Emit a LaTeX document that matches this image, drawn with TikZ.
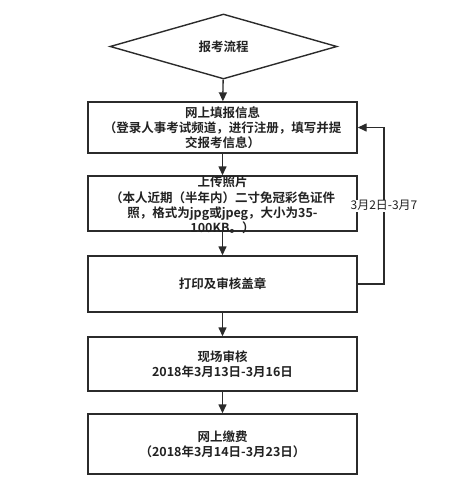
\documentclass[tikz,border=0pt]{standalone}
\usepackage{fontspec}
\newfontfamily\cjk{Noto Sans CJK SC}
\newfontfamily\cjkb{Noto Sans CJK SC Bold}
\usetikzlibrary{shapes.geometric,arrows.meta}
\definecolor{linegray}{HTML}{2B2B2B}
\definecolor{textgray}{HTML}{222222}
\tikzset{
  flow/.style={draw=linegray,line width=1.4pt,-{Triangle[length=9pt,width=8pt]}},
  box/.style={rectangle,draw=linegray,line width=1.4pt,minimum width=269pt,inner sep=2pt,
    align=center,text=textgray,font=\cjkb\fontsize{12.5}{15}\selectfont}
}
\begin{document}
\begin{tikzpicture}[x=1pt,y=-1pt]
        \useasboundingbox (0,0) rectangle (462,500);

        \node[diamond,draw=linegray,line width=1.4pt,minimum width=227pt,minimum height=65pt,
          aspect=3.5,inner sep=0pt,text=textgray,font=\cjkb\fontsize{12.5}{15}\selectfont]
          (start) at (223.5,46.5) {报考流程};

        \begin{scope}[every node/.style={box}]
          \node[minimum height=51pt] (info)  at (222.5,127.5) {网上填报信息\\（登录人事考试频道，进行注册，填写并提\\交报考信息）};
          \node[minimum height=55pt] (photo) at (222.5,203.5) {};
          \node[minimum height=56pt] (print) at (222.5,284)   {打印及审核盖章};
          \node[minimum height=54pt] (site)  at (222.5,364)   {现场审核\\2018年3月13日-3月16日};
          \node[minimum height=60pt] (pay)   at (222.5,444)   {网上缴费\\（2018年3月14日-3月23日）};
        \end{scope}

        \node[box,draw=none,font=\cjkb\fontsize{12.5}{15.3}\selectfont] (phototext) at (222.5,205)
          {上传照片\\（本人近期（半年内）二寸免冠彩色证件\\照，格式为jpg或jpeg，大小为35-\\100KB。）};

        \coordinate (back) at (384,284);

        \begin{scope}[every path/.style={flow}]
          \path (start) edge (info);
          \path (info)  edge (photo);
          \path (photo) edge (print);
          \path (print) edge (site);
          \path (site)  edge (pay);
        \end{scope}

        \draw[flow] (print.east) -- (back) |- (info.east)
          node[pos=0.25,fill=white,inner sep=1pt,text=textgray,font=\cjk\fontsize{12}{14}\selectfont] {3月2日-3月7};

      \end{tikzpicture}
\end{document}
